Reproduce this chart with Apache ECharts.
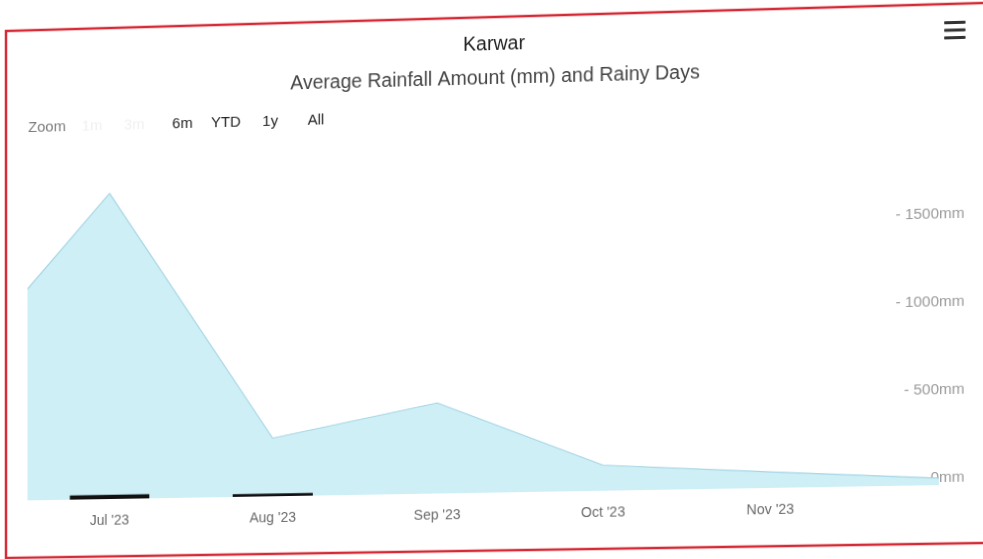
<!DOCTYPE html>
<html>
<head>
<meta charset="utf-8">
<title>Karwar rainfall</title>
<script src="https://cdn.jsdelivr.net/npm/echarts@6/dist/echarts.min.js"></script>
<style>
  html, body { margin: 0; padding: 0; background: #ffffff; overflow: hidden; }
  body { width: 983px; height: 559px; position: relative; }
  #chart { position: absolute; left: 0; top: 0; width: 983px; height: 559px; transform-origin: 0 0; background: #ffffff; }
</style>
</head>
<body>
<div id="chart"></div>
<script>
// Monthly data, Karwar, 2023
const months = ["Jun '23", "Jul '23", "Aug '23", "Sep '23", "Oct '23", "Nov '23", "Dec '23"];
const rainfallMm = [700, 1780, 337, 523, 147, 92, 40];
const rainyDays = [null, 25, 16, null, null, null, null];

// Axis setup
const yMax = 2000;
const yStep = 500;
const zoomButtons = ['1m', '3m', '6m', 'YTD', '1y', 'All'];
const activeButtons = ['6m', 'YTD', '1y', 'All'];

const FONT = '"Liberation Sans", Arial, sans-serif';

const el = document.getElementById('chart');
const chart = echarts.init(el, null, { renderer: 'canvas' });

const areaData = months.map((m, i) => [i, rainfallMm[i]]);
const dayData = [];
months.forEach((m, i) => { if (rainyDays[i] != null) dayData.push([i, rainyDays[i]]); });

// range selector row
const btnX = [94, 137, 186, 230, 275, 321];
const graphics = [
  { type: 'text', silent: true, style: { text: 'Zoom', x: 48, y: 117, textAlign: 'center', align: 'center', textVerticalAlign: 'middle', verticalAlign: 'middle', font: '15px ' + FONT, fill: '#7a7a7a' } }
];
zoomButtons.forEach((b, i) => {
  graphics.push({ type: 'text', silent: true, style: {
    text: b, x: btnX[i], y: 117, textAlign: 'center', align: 'center', textVerticalAlign: 'middle', verticalAlign: 'middle',
    font: '15px ' + FONT, fill: activeButtons.includes(b) ? '#222222' : '#f0f0f0' } });
});
// export menu icon
[35, 42.5, 50].forEach(y => {
  graphics.push({ type: 'rect', silent: true, shape: { x: 945, y: y, width: 21, height: 3, r: 1 }, style: { fill: '#333333' } });
});
// card border
graphics.push({ type: 'rect', silent: true, z: 100, shape: { x: 6, y: 18, width: 1000, height: 534 }, style: { fill: 'none', stroke: '#d42b36', lineWidth: 2.5 } });

chart.setOption({
  animation: false,
  backgroundColor: '#ffffff',
  textStyle: { fontFamily: FONT },
  title: {
    text: 'Karwar',
    subtext: 'Average Rainfall Amount (mm) and Rainy Days',
    left: 495,
    textAlign: 'center',
    top: 31,
    itemGap: 14,
    textStyle: { fontFamily: FONT, fontSize: 19.5, fontWeight: 'normal', color: '#1e1e1e' },
    subtextStyle: { fontFamily: FONT, fontSize: 19.5, color: '#454545' }
  },
  grid: { left: 29, right: 43, top: 147, bottom: 65, containLabel: false },
  xAxis: {
    type: 'value',
    min: 0.5,
    max: months.length - 1,
    interval: 0.5,
    axisLine: { show: false },
    axisTick: { show: false },
    splitLine: { show: false },
    axisLabel: {
      margin: 15,
      fontSize: 14,
      color: '#6a6a6a',
      showMaxLabel: false,
      formatter: v => (Number.isInteger(v) && v < months.length - 1) ? months[v] : ''
    }
  },
  yAxis: {
    type: 'value',
    position: 'right',
    min: 0,
    max: yMax,
    interval: yStep,
    axisLine: { show: false },
    axisTick: { show: false },
    splitLine: { show: false },
    axisLabel: {
      align: 'right',
      verticalAlign: 'bottom',
      margin: 25,
      fontSize: 15,
      color: '#9a9a9a',
      showMaxLabel: false,
      formatter: v => (v === 0 ? '' : '- ') + v + 'mm'
    }
  },
  series: [
    {
      name: 'Rainfall',
      type: 'line',
      data: areaData,
      showSymbol: false,
      symbol: 'none',
      clip: true,
      lineStyle: { color: '#a6d6e4', width: 1.2 },
      areaStyle: { color: '#cfeff7', opacity: 1 },
      z: 2
    },
    {
      name: 'Rainy Days',
      type: 'bar',
      data: dayData,
      barWidth: 81,
      itemStyle: { color: '#111111' },
      z: 3
    }
  ],
  graphic: graphics
});

// Slight keystone so the card sits at the same angle as the photographed panel
function homography(src, dst) {
  const A = [], B = [];
  for (let i = 0; i < 4; i++) {
    const [x, y] = src[i], [u, v] = dst[i];
    A.push([x, y, 1, 0, 0, 0, -x * u, -y * u]); B.push(u);
    A.push([0, 0, 0, x, y, 1, -x * v, -y * v]); B.push(v);
  }
  const n = 8;
  for (let c = 0; c < n; c++) {
    let p = c;
    for (let r = c + 1; r < n; r++) if (Math.abs(A[r][c]) > Math.abs(A[p][c])) p = r;
    [A[c], A[p]] = [A[p], A[c]]; [B[c], B[p]] = [B[p], B[c]];
    for (let r = 0; r < n; r++) {
      if (r === c) continue;
      const f = A[r][c] / A[c][c];
      for (let k = c; k < n; k++) A[r][k] -= f * A[c][k];
      B[r] -= f * B[c];
    }
  }
  return B.map((b, i) => b / A[i][i]);
}
const [a, b, c, d, e, f, g, h] = homography(
  [[6, 18], [983, 18], [6, 552], [983, 552]],
  [[6, 31], [983, 3], [6, 558], [983, 543]]
);
el.style.transform = `matrix3d(${a},${d},0,${g},${b},${e},0,${h},0,0,1,0,${c},${f},0,1)`;
</script>
</body>
</html>
